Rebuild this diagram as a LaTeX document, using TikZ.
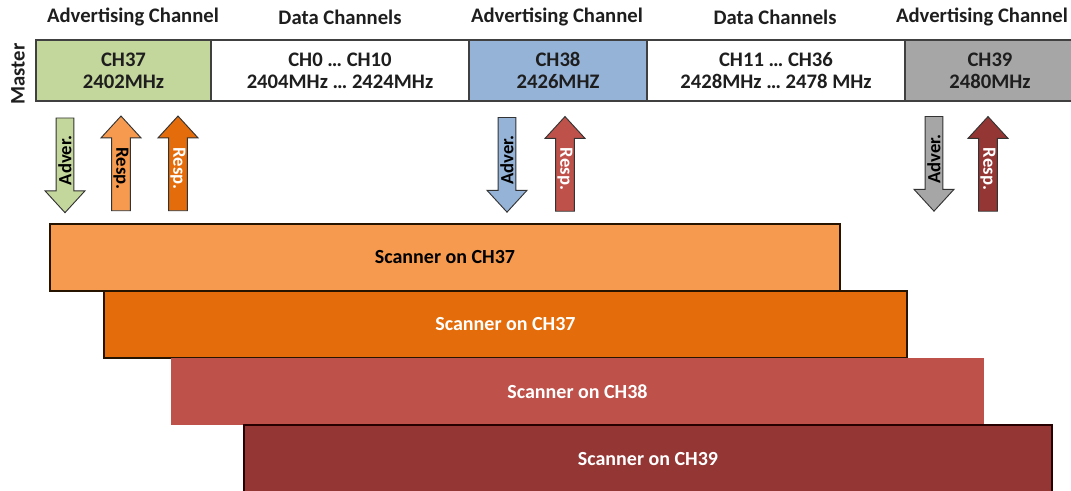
\documentclass[tikz,border=0pt]{standalone}
\usepackage{fontspec}
\setmainfont{Carlito}
\usetikzlibrary{shapes.arrows}

\definecolor{advgreen}{HTML}{C3D69B}
\definecolor{advblue}{HTML}{95B3D7}
\definecolor{advgrey}{HTML}{A6A6A6}
\definecolor{lightorange}{HTML}{F59A4E}
\definecolor{darkorange}{HTML}{E46C0A}
\definecolor{scanred}{HTML}{BE514A}
\definecolor{darkred}{HTML}{943634}
\definecolor{textdark}{HTML}{1E1E1E}

\tikzset{
  head/.style={font=\bfseries\fontsize{15.5}{18}\selectfont, text=textdark},
  chanbox/.style={draw=black!75, line width=1.2pt},
  chantext/.style={align=center, font=\bfseries\fontsize{15.5}{16.5}\selectfont, text=textdark},
  dirarrow/.style={single arrow, draw=black!80, line width=0.7pt,
    minimum height=71pt, minimum width=30pt, inner sep=0.6pt,
    single arrow head extend=7.5pt, single arrow tip angle=85,
    shape border rotate=180, font=\bfseries\fontsize{14}{14}\selectfont},
  advarrow/.style={dirarrow, rotate=90, text=black},
  resparrow/.style={dirarrow, rotate=-90},
  scanbar/.style={line width=1pt},
  scantext/.style={font=\bfseries\fontsize{15}{18}\selectfont}
}

\begin{document}
\begin{tikzpicture}[x=0.75pt, y=-0.75pt]
  \clip (0,0) rectangle (1071,490);
  \fill[white] (0,0) rectangle (1071,490);

  % header
  \node[head] (h1) at (133,17) {Advertising Channel};
  \node[head] (h2) at (340,17) {Data Channels};
  \node[head] (h3) at (557,17) {Advertising Channel};
  \node[head] (h4) at (775,17) {Data Channels};
  \node[head] (h5) at (982,17) {Advertising Channel};
  \node[head, rotate=90] (master) at (18,74) {Master};

  % channel row
  \draw[chanbox, fill=advgreen] (36,40) rectangle node[chantext] (ch37) {CH37\\2402MHz} (211,101);
  \draw[chanbox, fill=white] (211,40) rectangle node[chantext] (data1) {CH0 \dots\ CH10\\2404MHz \dots\ 2424MHz} (469,101);
  \draw[chanbox, fill=advblue] (469,40) rectangle node[chantext] (ch38) {CH38\\2426MHZ} (647,101);
  \draw[chanbox, fill=white] (647,40) rectangle node[chantext] (data2) {CH11 \dots\ CH36\\2428MHz \dots\ 2478 MHz} (905,101);
  \draw[chanbox, fill=advgrey] (905,40) rectangle node[chantext] (ch39) {CH39\\2480MHz} (1075,101);

  % adver / resp arrows
  \node[advarrow, fill=advgreen] (adv37) at (65,160.5) {Adver.};
  \node[resparrow, fill=lightorange, text=black] (resp37a) at (121,168.5) {Resp.};
  \node[resparrow, fill=darkorange, text=white] (resp37b) at (178,168.5) {Resp.};
  \node[advarrow, fill=advblue] (adv38) at (507,160) {Adver.};
  \node[resparrow, fill=scanred, text=white] (resp38) at (565,169) {Resp.};
  \node[advarrow, fill=advgrey] (adv39) at (934,159) {Adver.};
  \node[resparrow, fill=darkred, text=white] (resp39) at (988,169) {Resp.};

  % scanners
  \draw[scanbar, draw=black!85!orange, fill=lightorange] (50,224) rectangle node[scantext, text=black] (scan1) {Scanner on CH37} (840,291);
  \draw[scanbar, draw=black!85!orange, fill=darkorange] (104,291) rectangle node[scantext, text=white] (scan2) {Scanner on CH37} (907,358);
  \fill[scanred] (171,358) rectangle node[scantext, text=white] (scan3) {Scanner on CH38} (984,425);
  \draw[scanbar, draw=black!85!red, fill=darkred] (244,425) rectangle node[scantext, text=white] (scan4) {Scanner on CH39} (1052,494);
\end{tikzpicture}
\end{document}
